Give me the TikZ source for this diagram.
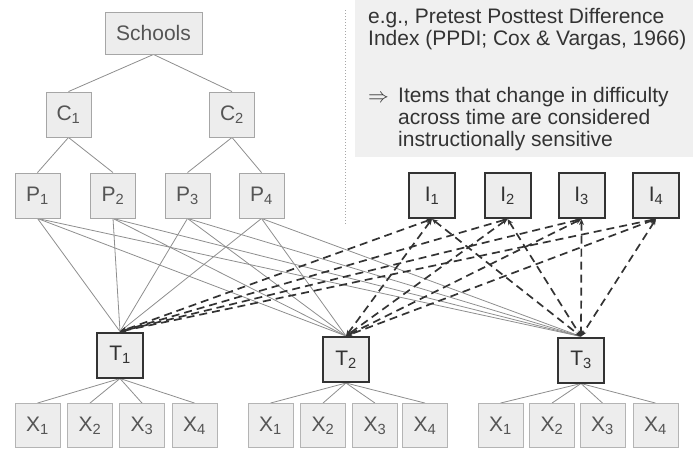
\documentclass[tikz,border=0pt]{standalone}
\usepackage{fontspec}
\setmainfont{Liberation Sans}
\usetikzlibrary{arrows.meta,backgrounds}
\definecolor{boxfill}{HTML}{EDEDED}
\definecolor{gborder}{HTML}{A6A6A6}
\definecolor{xborder}{HTML}{B4B4B4}
\definecolor{labtext}{HTML}{555555}
\definecolor{dark}{HTML}{333333}
\definecolor{linegray}{HTML}{8E8E8E}
\definecolor{notefill}{HTML}{F0F0F0}
\begin{document}
\begin{tikzpicture}[x=1pt,y=-1pt,
  gbox/.style={draw=gborder, fill=boxfill, line width=0.9pt, minimum width=45pt, minimum height=45pt, inner sep=0pt, text=labtext, font=\fontsize{21}{21}\selectfont},
  xbox/.style={gbox, draw=xborder, minimum height=44pt},
  kbox/.style={gbox, draw=dark, line width=2pt, text=dark, minimum width=46pt},
  tree/.style={draw=linegray, line width=0.8pt},
  dline/.style={draw=dark, line width=1.7pt, dash pattern=on 8pt off 5pt, {Stealth[length=6pt,width=5pt]}-{Stealth[length=6pt,width=5pt]}},
  note/.style={anchor=base west, inner sep=0pt, text=dark, font=\fontsize{21}{22}\selectfont},
]
\useasboundingbox (0,0) rectangle (693,448);
% note text
\node[note] (n1) at (368,23) {e.g., Pretest Posttest Difference};
\node[note] (n2) at (368,45) {Index (PPDI; Cox \& Vargas, 1966)};
\node[note] (n3) at (368,102) {$\Rightarrow$};
\node[note] (n4) at (398,102) {Items that change in difficulty};
\node[note] (n5) at (398,124) {across time are considered};
\node[note] (n6) at (398,146) {instructionally sensitive};
% separator
\coordinate (d1) at (345,10);
\coordinate (d2) at (345,224);
\draw[draw=gray!70, line width=1pt, dotted] (d1) -- (d2);
% nodes
\node[gbox, minimum width=97pt, minimum height=42pt] (S) at (153.5,33) {Schools};
\node[gbox] (C1) at (68.5,114.5) {C\textsubscript{1}};
\node[gbox] (C2) at (232,114.5) {C\textsubscript{2}};
\node[gbox] (P1) at (37.5,195.5) {P\textsubscript{1}};
\node[gbox] (P2) at (113,195.5) {P\textsubscript{2}};
\node[gbox] (P3) at (187.5,195.5) {P\textsubscript{3}};
\node[gbox] (P4) at (261.5,195.5) {P\textsubscript{4}};
\node[kbox] (I1) at (432,195.5) {I\textsubscript{1}};
\node[kbox] (I2) at (507.5,195.5) {I\textsubscript{2}};
\node[kbox] (I3) at (581.5,195.5) {I\textsubscript{3}};
\node[kbox] (I4) at (656,195.5) {I\textsubscript{4}};
\node[kbox] (T1) at (120,355) {T\textsubscript{1}};
\node[kbox] (T2) at (346,359.5) {T\textsubscript{2}};
\node[kbox] (T3) at (581,360) {T\textsubscript{3}};
\foreach \g/\xa/\xb/\xc/\xd in {1/37.5/90/142/194.5, 2/270.5/323/375/425, 3/500.5/552/602.5/655.5}{
  \node[xbox] (X\g1) at (\xa,425.5) {X\textsubscript{1}};
  \node[xbox] (X\g2) at (\xb,425.5) {X\textsubscript{2}};
  \node[xbox] (X\g3) at (\xc,425.5) {X\textsubscript{3}};
  \node[xbox] (X\g4) at (\xd,425.5) {X\textsubscript{4}};
}
\begin{scope}[on background layer]
\fill[notefill] (355,0) rectangle (693,157);
\draw[tree] (S.south) -- (C1.north);
\draw[tree] (S.south) -- (C2.north);
\draw[tree] (C1.south) -- (P1.north);
\draw[tree] (C1.south) -- (P2.north);
\draw[tree] (C2.south) -- (P3.north);
\draw[tree] (C2.south) -- (P4.north);
\foreach \p in {1,2,3,4}{
  \foreach \t in {1,2,3}{
    \draw[tree] (P\p.south) -- (T\t.north);
  }
}
\foreach \t in {1,2,3}{
  \foreach \x in {1,2,3,4}{
    \draw[tree] (T\t.south) -- (X\t\x.north);
  }
}
\foreach \i in {1,2,3,4}{
  \foreach \t in {1,2,3}{
    \draw[dline] (I\i.south) -- (T\t.north);
  }
}
\end{scope}
\end{tikzpicture}
\end{document}
